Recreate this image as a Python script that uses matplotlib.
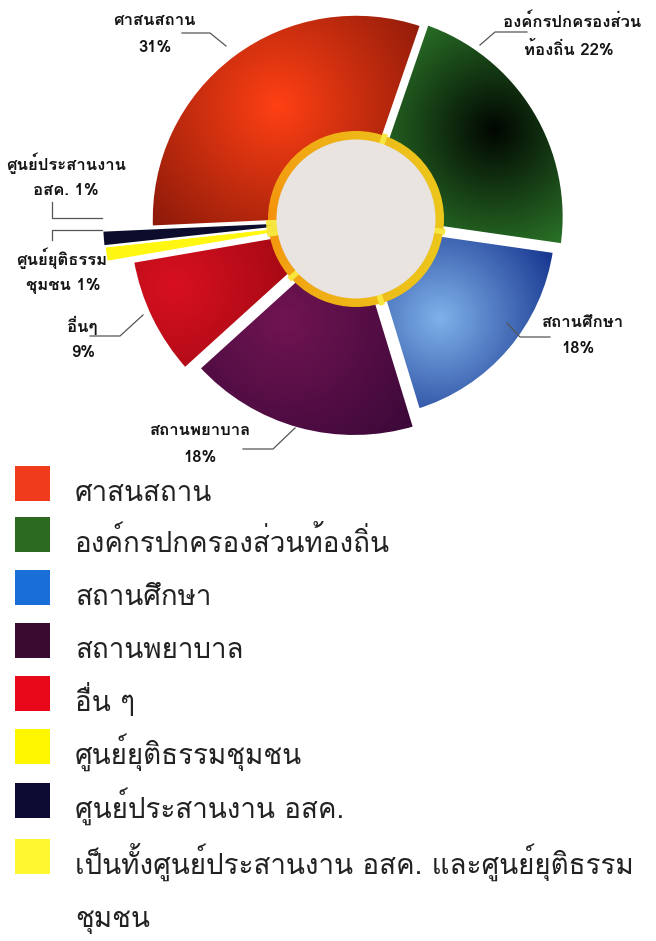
import numpy as np
import matplotlib
matplotlib.use("Agg")
import matplotlib.pyplot as plt
from matplotlib.patches import Circle, Rectangle, Wedge
from matplotlib.colors import to_rgb
from matplotlib.transforms import Affine2D

# slices clockwise from the top right
pie_cats = ["องค์กรปกครองส่วนท้องถิ่น", "สถานศึกษา", "สถานพยาบาล", "อื่น ๆ",
            "ศูนย์ยุติธรรมชุมชน", "ศูนย์ประสานงาน อสค.", "ศาสนสถาน"]
pie_pct = [22, 18, 18, 9, 1, 1, 31]
# how each slice is written next to the pie (name, then the line with the %)
pie_label_top = ["องค์กรปกครองส่วน", "สถานศึกษา", "สถานพยาบาล", "อื่นๆ",
                 "ศูนย์ยุติธรรม", "ศูนย์ประสานงาน", "ศาสนสถาน"]
pie_label_pre = ["ท้องถิ่น ", "", "", "", "ชุมชน ", "อสค. ", ""]

legend_labels = ["ศาสนสถาน", "องค์กรปกครองส่วนท้องถิ่น", "สถานศึกษา", "สถานพยาบาล",
                 "อื่น ๆ", "ศูนย์ยุติธรรมชุมชน", "ศูนย์ประสานงาน อสค.",
                 "เป็นทั้งศูนย์ประสานงาน อสค. และศูนย์ยุติธรรม\nชุมชน"]
legend_colors = ["#f03c1c", "#2c6a22", "#1a6ed8", "#3a0a30",
                 "#e8081a", "#fff700", "#0c0a32", "#fff830"]

# look of each slice: (inner colour, outer colour, gradient focus px, spread)
slice_shade = [("#010601", "#2f7f2c", (495, 130), 145),
               ("#80b2ea", "#1a3a92", (440, 318), 125),
               ("#701452", "#3a0838", (285, 320), 170),
               ("#d81020", "#9c0812", (175, 285), 140),
               None, None,
               ("#ff4014", "#7a1408", (278, 105), 200)]
flat = {4: "#fff712", 5: "#0c0c2c"}
radii = [206, 198, 212, 220, 250, 252, 206]
explode = [4, 5, 7, 9, 3, 2, 0]

W, H = 656, 941
cx, cy = 356, 219          # pie centre, px from top-left
thai = ["Loma", "DejaVu Sans"]

fig = plt.figure(figsize=(6.56, 9.41), dpi=100)
ax = fig.add_axes([0, 0, 1, 1])
top = Affine2D().scale(1, -1).translate(0, H) + ax.transData   # px, y down

wedges, _ = ax.pie(pie_pct, startangle=71, counterclock=False, center=(cx, H - cy),
                   radius=206, frame=True,
                   wedgeprops=dict(edgecolor="white", linewidth=4, zorder=2))
ax.set_xlim(0, W)
ax.set_ylim(0, H)
ax.axis("off")

gx, gy = np.meshgrid(np.arange(W) + 0.5, np.arange(H) + 0.5)


def shade(patch, inner, outer, focus, spread, z):
    d = np.clip(np.hypot(gx - focus[0], gy - (H - focus[1])) / spread, 0, 1)[..., None]
    img = np.array(to_rgb(inner)) * (1 - d) + np.array(to_rgb(outer)) * d
    im = ax.imshow(img, extent=(0, W, 0, H), origin="lower", zorder=z,
                   interpolation="bilinear")
    im.set_clip_path(patch)


for i, w in enumerate(wedges):
    mid = np.deg2rad((w.theta1 + w.theta2) / 2)
    w.set_center((cx + explode[i] * np.cos(mid), H - cy + explode[i] * np.sin(mid)))
    w.set_radius(radii[i])
    if slice_shade[i] is None:
        w.set_facecolor(flat[i])
        w.set_linewidth(1.6)
        w.set_zorder(3)
    else:
        w.set_facecolor("none")
        shade(w, *slice_shade[i], z=1)

# orange ring round the centre
ring = Wedge((cx, H - cy), 88, 0, 360, width=9, facecolor="none", edgecolor="none", zorder=4)
ax.add_patch(ring)
shade(ring, "#f5920e", "#ecc81c", (cx - 90, cy), 180, z=4)
for w in wedges:
    t = np.deg2rad(w.theta1)
    ax.plot([cx + 78 * np.cos(t), cx + 90 * np.cos(t)],
            [H - cy + 78 * np.sin(t), H - cy + 90 * np.sin(t)],
            color="#f7e640", lw=4, solid_capstyle="butt", zorder=5)
ax.add_patch(Circle((cx, H - cy), 79.5, facecolor="#e9e4df", edgecolor="none", zorder=6))

# labels round the pie: name, % line, leader line (px, y down)
label_pos = [((572, 27), (569, 55), [(480, 45), (495, 32), (527, 32)]),
             ((582, 327), (578, 353), [(507, 323), (520, 337), (550, 337)]),
             ((200, 435), (200, 462), [(243, 449), (273, 449), (295, 428)]),
             ((82, 332), (83, 357), [(90, 336), (120, 336), (143, 315)]),
             ((62, 265), (63, 290), [(102, 230), (52, 230), (52, 240)]),
             ((66, 170), (66, 195), [(52, 202), (52, 218), (102, 218)]),
             ((154, 25), (155, 52), [(182, 33), (210, 33), (226, 46)])]
lab_font = dict(family=thai, weight="bold", fontsize=12, color="#141414",
                ha="center", va="baseline", transform=top, zorder=7)
for i, (p1, p2, line) in enumerate(label_pos):
    ax.text(*p1, pie_label_top[i], **lab_font)
    ax.text(*p2, f"{pie_label_pre[i]}{pie_pct[i]}%", **lab_font)
    xs, ys = zip(*line)
    ax.plot(xs, ys, color="#555555", lw=0.9, transform=top, zorder=7)

# legend
row_y = [501, 552, 605, 658, 711, 764, 818, 874]
for lab, col, yb in zip(legend_labels, legend_colors, row_y):
    ax.add_patch(Rectangle((15, yb - 35), 35, 35, facecolor=col, edgecolor="none",
                           transform=top))
    for k, part in enumerate(lab.split("\n")):
        ax.text(75, yb + 53 * k, part, family=thai, fontsize=20, color="#222222",
                ha="left", va="baseline", transform=top)

fig.savefig("out.png", dpi=100)
